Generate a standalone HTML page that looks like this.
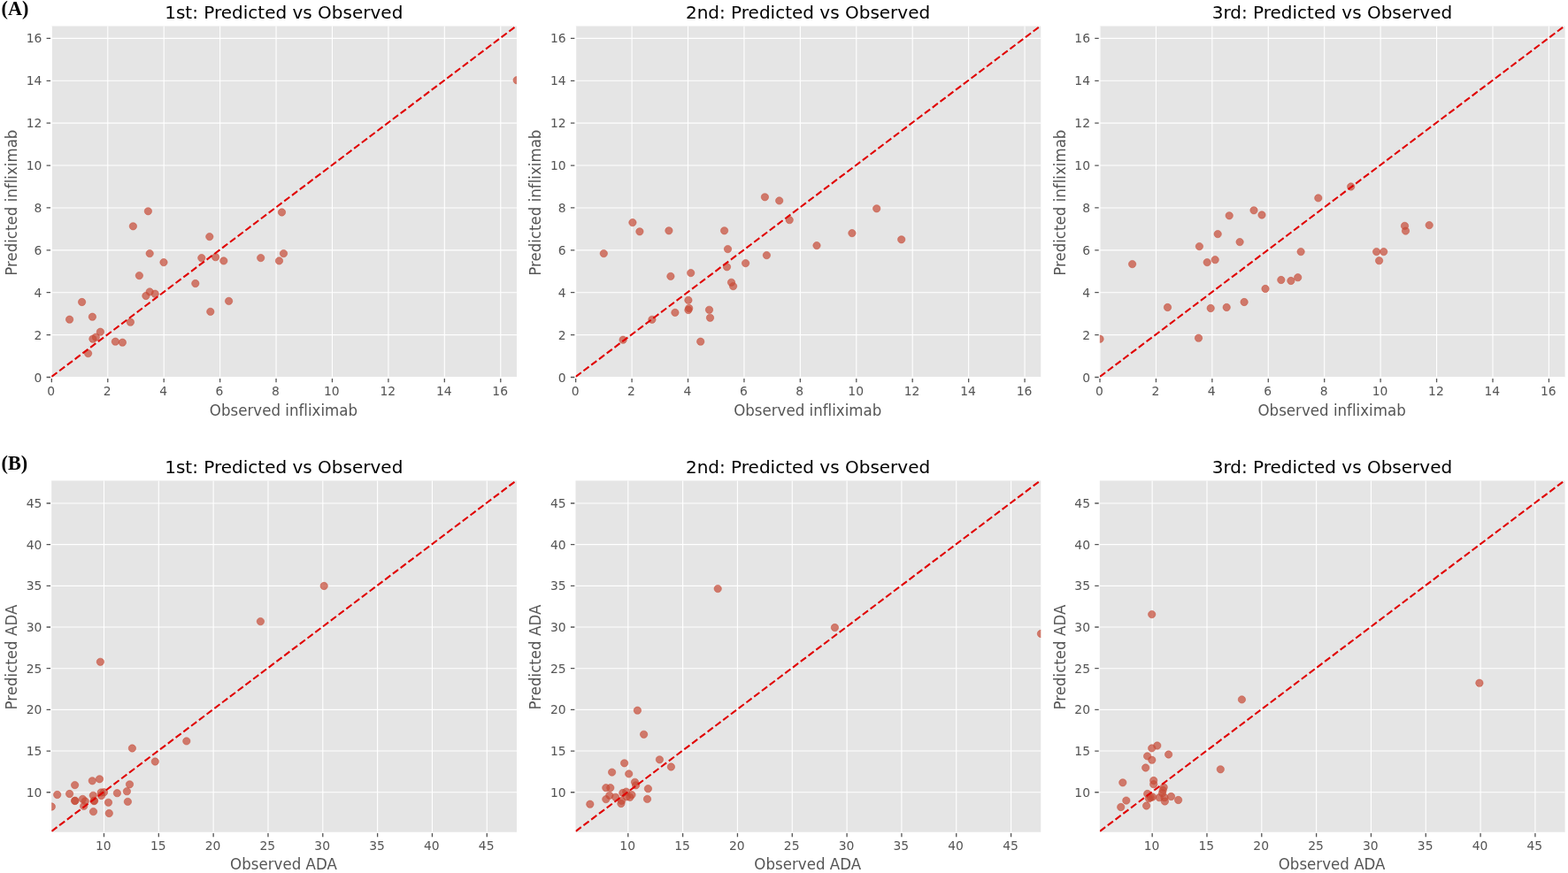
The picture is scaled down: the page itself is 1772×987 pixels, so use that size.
<!DOCTYPE html>
<html lang="en">
<head>
<meta charset="utf-8">
<title>Predicted vs Observed</title>
<style>
html,body{margin:0;padding:0;background:#ffffff;}
body{width:1772px;height:987px;overflow:hidden;}
svg{display:block;}
text{font-variant-ligatures:none;font-kerning:normal;}

</style>
</head>
<body>
<svg width="1772" height="987" viewBox="0 0 1772 987">
<rect x="0" y="0" width="1772" height="987" fill="#ffffff"/>
<defs><clipPath id="cA0"><rect x="58.2" y="29.5" width="525.75" height="397.24"/></clipPath><clipPath id="cA1"><rect x="650.5" y="29.5" width="525.75" height="397.24"/></clipPath><clipPath id="cA2"><rect x="1242.85" y="29.5" width="525.75" height="397.24"/></clipPath><clipPath id="cB0"><rect x="58.2" y="543.43" width="525.75" height="397.31"/></clipPath><clipPath id="cB1"><rect x="650.5" y="543.43" width="525.75" height="397.31"/></clipPath><clipPath id="cB2"><rect x="1242.85" y="543.43" width="525.75" height="397.31"/></clipPath></defs>
<g font-family="'DejaVu Sans', 'Liberation Sans', sans-serif"><g><rect x="58.2" y="29.5" width="525.75" height="397.24" fill="#E5E5E5"/><line x1="58.35" y1="29.5" x2="58.35" y2="426.74" stroke="#ffffff" stroke-width="1.11"/><line x1="58.2" y1="426.5" x2="583.95" y2="426.5" stroke="#ffffff" stroke-width="1.11"/><line x1="121.78" y1="29.5" x2="121.78" y2="426.74" stroke="#ffffff" stroke-width="1.11"/><line x1="58.2" y1="378.61" x2="583.95" y2="378.61" stroke="#ffffff" stroke-width="1.11"/><line x1="185.2" y1="29.5" x2="185.2" y2="426.74" stroke="#ffffff" stroke-width="1.11"/><line x1="58.2" y1="330.72" x2="583.95" y2="330.72" stroke="#ffffff" stroke-width="1.11"/><line x1="248.63" y1="29.5" x2="248.63" y2="426.74" stroke="#ffffff" stroke-width="1.11"/><line x1="58.2" y1="282.83" x2="583.95" y2="282.83" stroke="#ffffff" stroke-width="1.11"/><line x1="312.05" y1="29.5" x2="312.05" y2="426.74" stroke="#ffffff" stroke-width="1.11"/><line x1="58.2" y1="234.94" x2="583.95" y2="234.94" stroke="#ffffff" stroke-width="1.11"/><line x1="375.48" y1="29.5" x2="375.48" y2="426.74" stroke="#ffffff" stroke-width="1.11"/><line x1="58.2" y1="187.05" x2="583.95" y2="187.05" stroke="#ffffff" stroke-width="1.11"/><line x1="438.9" y1="29.5" x2="438.9" y2="426.74" stroke="#ffffff" stroke-width="1.11"/><line x1="58.2" y1="139.17" x2="583.95" y2="139.17" stroke="#ffffff" stroke-width="1.11"/><line x1="502.33" y1="29.5" x2="502.33" y2="426.74" stroke="#ffffff" stroke-width="1.11"/><line x1="58.2" y1="91.28" x2="583.95" y2="91.28" stroke="#ffffff" stroke-width="1.11"/><line x1="565.76" y1="29.5" x2="565.76" y2="426.74" stroke="#ffffff" stroke-width="1.11"/><line x1="58.2" y1="43.39" x2="583.95" y2="43.39" stroke="#ffffff" stroke-width="1.11"/><path d="M58.35 427.89v4.45M57.05 426.5h-4.45M121.78 427.89v4.45M57.05 378.61h-4.45M185.2 427.89v4.45M57.05 330.72h-4.45M248.63 427.89v4.45M57.05 282.83h-4.45M312.05 427.89v4.45M57.05 234.94h-4.45M375.48 427.89v4.45M57.05 187.05h-4.45M438.9 427.89v4.45M57.05 139.17h-4.45M502.33 427.89v4.45M57.05 91.28h-4.45M565.76 427.89v4.45M57.05 43.39h-4.45" stroke="#555555" stroke-width="1.3" fill="none"/><g clip-path="url(#cA0)" fill="#C64A36" fill-opacity="0.7" stroke="#C64A36" stroke-opacity="0.7" stroke-width="0.69"><circle cx="167.4" cy="238.8" r="4.17"/><circle cx="150.4" cy="255.8" r="4.17"/><circle cx="236.8" cy="267.6" r="4.17"/><circle cx="318.5" cy="240" r="4.17"/><circle cx="169.2" cy="286.6" r="4.17"/><circle cx="185" cy="296.6" r="4.17"/><circle cx="227.8" cy="291.6" r="4.17"/><circle cx="243.6" cy="290.7" r="4.17"/><circle cx="252.8" cy="294.9" r="4.17"/><circle cx="294.7" cy="291.6" r="4.17"/><circle cx="320.5" cy="286.6" r="4.17"/><circle cx="315.5" cy="294.9" r="4.17"/><circle cx="157.4" cy="311.6" r="4.17"/><circle cx="220.8" cy="320.5" r="4.17"/><circle cx="169.2" cy="329.9" r="4.17"/><circle cx="164.9" cy="334.5" r="4.17"/><circle cx="175.2" cy="332.2" r="4.17"/><circle cx="92.6" cy="341.5" r="4.17"/><circle cx="258.6" cy="340.4" r="4.17"/><circle cx="237.8" cy="352.4" r="4.17"/><circle cx="104.4" cy="358.2" r="4.17"/><circle cx="78.6" cy="361.2" r="4.17"/><circle cx="147.4" cy="364.2" r="4.17"/><circle cx="113.4" cy="375.2" r="4.17"/><circle cx="108.3" cy="381.2" r="4.17"/><circle cx="104.9" cy="383.2" r="4.17"/><circle cx="130.4" cy="386.2" r="4.17"/><circle cx="138.4" cy="387.2" r="4.17"/><circle cx="99.6" cy="399.6" r="4.17"/><circle cx="584.15" cy="90.7" r="4.17"/></g><line clip-path="url(#cA0)" x1="58.35" y1="425.9" x2="584.15" y2="28.9" stroke="#e00000" stroke-width="2.08" stroke-dasharray="7.67 3.31"/><g fill="#555555" font-size="13.89"><text x="57.75" y="446.7" text-anchor="middle">0</text><text x="47.35" y="431.5" text-anchor="end">0</text><text x="121.18" y="446.7" text-anchor="middle">2</text><text x="47.35" y="383.61" text-anchor="end">2</text><text x="184.6" y="446.7" text-anchor="middle">4</text><text x="47.35" y="335.72" text-anchor="end">4</text><text x="248.03" y="446.7" text-anchor="middle">6</text><text x="47.35" y="287.83" text-anchor="end">6</text><text x="311.45" y="446.7" text-anchor="middle">8</text><text x="47.35" y="239.94" text-anchor="end">8</text><text x="374.88" y="446.7" text-anchor="middle">10</text><text x="47.35" y="192.05" text-anchor="end">10</text><text x="438.3" y="446.7" text-anchor="middle">12</text><text x="47.35" y="144.17" text-anchor="end">12</text><text x="501.73" y="446.7" text-anchor="middle">14</text><text x="47.35" y="96.28" text-anchor="end">14</text><text x="565.16" y="446.7" text-anchor="middle">16</text><text x="47.35" y="48.39" text-anchor="end">16</text></g><text transform="translate(320.45 469.5) scale(0.9524 1)" text-anchor="middle" fill="#555555" font-size="17.5">Observed infliximab</text><text transform="translate(19 229.2) rotate(-90) scale(0.9524 1)" text-anchor="middle" fill="#555555" font-size="17.5">Predicted infliximab</text><text transform="translate(320.75 21) scale(1.0000 1)" text-anchor="middle" fill="#000000" font-size="20">1st: Predicted vs Observed</text></g><g><rect x="650.5" y="29.5" width="525.75" height="397.24" fill="#E5E5E5"/><line x1="650.65" y1="29.5" x2="650.65" y2="426.74" stroke="#ffffff" stroke-width="1.11"/><line x1="650.5" y1="426.5" x2="1176.25" y2="426.5" stroke="#ffffff" stroke-width="1.11"/><line x1="714.08" y1="29.5" x2="714.08" y2="426.74" stroke="#ffffff" stroke-width="1.11"/><line x1="650.5" y1="378.61" x2="1176.25" y2="378.61" stroke="#ffffff" stroke-width="1.11"/><line x1="777.5" y1="29.5" x2="777.5" y2="426.74" stroke="#ffffff" stroke-width="1.11"/><line x1="650.5" y1="330.72" x2="1176.25" y2="330.72" stroke="#ffffff" stroke-width="1.11"/><line x1="840.93" y1="29.5" x2="840.93" y2="426.74" stroke="#ffffff" stroke-width="1.11"/><line x1="650.5" y1="282.83" x2="1176.25" y2="282.83" stroke="#ffffff" stroke-width="1.11"/><line x1="904.35" y1="29.5" x2="904.35" y2="426.74" stroke="#ffffff" stroke-width="1.11"/><line x1="650.5" y1="234.94" x2="1176.25" y2="234.94" stroke="#ffffff" stroke-width="1.11"/><line x1="967.78" y1="29.5" x2="967.78" y2="426.74" stroke="#ffffff" stroke-width="1.11"/><line x1="650.5" y1="187.05" x2="1176.25" y2="187.05" stroke="#ffffff" stroke-width="1.11"/><line x1="1031.2" y1="29.5" x2="1031.2" y2="426.74" stroke="#ffffff" stroke-width="1.11"/><line x1="650.5" y1="139.17" x2="1176.25" y2="139.17" stroke="#ffffff" stroke-width="1.11"/><line x1="1094.63" y1="29.5" x2="1094.63" y2="426.74" stroke="#ffffff" stroke-width="1.11"/><line x1="650.5" y1="91.28" x2="1176.25" y2="91.28" stroke="#ffffff" stroke-width="1.11"/><line x1="1158.06" y1="29.5" x2="1158.06" y2="426.74" stroke="#ffffff" stroke-width="1.11"/><line x1="650.5" y1="43.39" x2="1176.25" y2="43.39" stroke="#ffffff" stroke-width="1.11"/><path d="M650.65 427.89v4.45M649.35 426.5h-4.45M714.08 427.89v4.45M649.35 378.61h-4.45M777.5 427.89v4.45M649.35 330.72h-4.45M840.93 427.89v4.45M649.35 282.83h-4.45M904.35 427.89v4.45M649.35 234.94h-4.45M967.78 427.89v4.45M649.35 187.05h-4.45M1031.2 427.89v4.45M649.35 139.17h-4.45M1094.63 427.89v4.45M649.35 91.28h-4.45M1158.06 427.89v4.45M649.35 43.39h-4.45" stroke="#555555" stroke-width="1.3" fill="none"/><g clip-path="url(#cA1)" fill="#C64A36" fill-opacity="0.7" stroke="#C64A36" stroke-opacity="0.7" stroke-width="0.69"><circle cx="864.4" cy="222.8" r="4.17"/><circle cx="880.7" cy="226.9" r="4.17"/><circle cx="714.9" cy="251.6" r="4.17"/><circle cx="722.9" cy="261.8" r="4.17"/><circle cx="755.9" cy="260.8" r="4.17"/><circle cx="818.6" cy="260.8" r="4.17"/><circle cx="892.2" cy="248.7" r="4.17"/><circle cx="923" cy="277.6" r="4.17"/><circle cx="682.3" cy="286.6" r="4.17"/><circle cx="822.5" cy="281.6" r="4.17"/><circle cx="866.4" cy="288.6" r="4.17"/><circle cx="842.6" cy="297.6" r="4.17"/><circle cx="821.5" cy="301.8" r="4.17"/><circle cx="780.7" cy="308.6" r="4.17"/><circle cx="757.9" cy="312.4" r="4.17"/><circle cx="826.5" cy="319.3" r="4.17"/><circle cx="828.6" cy="323.6" r="4.17"/><circle cx="777.9" cy="339.4" r="4.17"/><circle cx="778.7" cy="348.5" r="4.17"/><circle cx="777.9" cy="350.5" r="4.17"/><circle cx="762.9" cy="353.4" r="4.17"/><circle cx="801.5" cy="350.3" r="4.17"/><circle cx="802.5" cy="359.3" r="4.17"/><circle cx="736.9" cy="361.3" r="4.17"/><circle cx="704.1" cy="384.2" r="4.17"/><circle cx="791.7" cy="386.2" r="4.17"/><circle cx="990.7" cy="235.8" r="4.17"/><circle cx="962.9" cy="263.6" r="4.17"/><circle cx="1018.7" cy="270.8" r="4.17"/></g><line clip-path="url(#cA1)" x1="650.65" y1="425.9" x2="1176.45" y2="28.9" stroke="#e00000" stroke-width="2.08" stroke-dasharray="7.67 3.31"/><g fill="#555555" font-size="13.89"><text x="650.05" y="446.7" text-anchor="middle">0</text><text x="639.65" y="431.5" text-anchor="end">0</text><text x="713.48" y="446.7" text-anchor="middle">2</text><text x="639.65" y="383.61" text-anchor="end">2</text><text x="776.9" y="446.7" text-anchor="middle">4</text><text x="639.65" y="335.72" text-anchor="end">4</text><text x="840.33" y="446.7" text-anchor="middle">6</text><text x="639.65" y="287.83" text-anchor="end">6</text><text x="903.75" y="446.7" text-anchor="middle">8</text><text x="639.65" y="239.94" text-anchor="end">8</text><text x="967.18" y="446.7" text-anchor="middle">10</text><text x="639.65" y="192.05" text-anchor="end">10</text><text x="1030.6" y="446.7" text-anchor="middle">12</text><text x="639.65" y="144.17" text-anchor="end">12</text><text x="1094.03" y="446.7" text-anchor="middle">14</text><text x="639.65" y="96.28" text-anchor="end">14</text><text x="1157.46" y="446.7" text-anchor="middle">16</text><text x="639.65" y="48.39" text-anchor="end">16</text></g><text transform="translate(912.75 469.5) scale(0.9524 1)" text-anchor="middle" fill="#555555" font-size="17.5">Observed infliximab</text><text transform="translate(611.3 229.2) rotate(-90) scale(0.9524 1)" text-anchor="middle" fill="#555555" font-size="17.5">Predicted infliximab</text><text transform="translate(913.05 21) scale(1.0000 1)" text-anchor="middle" fill="#000000" font-size="20">2nd: Predicted vs Observed</text></g><g><rect x="1242.85" y="29.5" width="525.75" height="397.24" fill="#E5E5E5"/><line x1="1243" y1="29.5" x2="1243" y2="426.74" stroke="#ffffff" stroke-width="1.11"/><line x1="1242.85" y1="426.5" x2="1768.6" y2="426.5" stroke="#ffffff" stroke-width="1.11"/><line x1="1306.43" y1="29.5" x2="1306.43" y2="426.74" stroke="#ffffff" stroke-width="1.11"/><line x1="1242.85" y1="378.61" x2="1768.6" y2="378.61" stroke="#ffffff" stroke-width="1.11"/><line x1="1369.85" y1="29.5" x2="1369.85" y2="426.74" stroke="#ffffff" stroke-width="1.11"/><line x1="1242.85" y1="330.72" x2="1768.6" y2="330.72" stroke="#ffffff" stroke-width="1.11"/><line x1="1433.28" y1="29.5" x2="1433.28" y2="426.74" stroke="#ffffff" stroke-width="1.11"/><line x1="1242.85" y1="282.83" x2="1768.6" y2="282.83" stroke="#ffffff" stroke-width="1.11"/><line x1="1496.7" y1="29.5" x2="1496.7" y2="426.74" stroke="#ffffff" stroke-width="1.11"/><line x1="1242.85" y1="234.94" x2="1768.6" y2="234.94" stroke="#ffffff" stroke-width="1.11"/><line x1="1560.13" y1="29.5" x2="1560.13" y2="426.74" stroke="#ffffff" stroke-width="1.11"/><line x1="1242.85" y1="187.05" x2="1768.6" y2="187.05" stroke="#ffffff" stroke-width="1.11"/><line x1="1623.55" y1="29.5" x2="1623.55" y2="426.74" stroke="#ffffff" stroke-width="1.11"/><line x1="1242.85" y1="139.17" x2="1768.6" y2="139.17" stroke="#ffffff" stroke-width="1.11"/><line x1="1686.98" y1="29.5" x2="1686.98" y2="426.74" stroke="#ffffff" stroke-width="1.11"/><line x1="1242.85" y1="91.28" x2="1768.6" y2="91.28" stroke="#ffffff" stroke-width="1.11"/><line x1="1750.41" y1="29.5" x2="1750.41" y2="426.74" stroke="#ffffff" stroke-width="1.11"/><line x1="1242.85" y1="43.39" x2="1768.6" y2="43.39" stroke="#ffffff" stroke-width="1.11"/><path d="M1243 427.89v4.45M1241.7 426.5h-4.45M1306.43 427.89v4.45M1241.7 378.61h-4.45M1369.85 427.89v4.45M1241.7 330.72h-4.45M1433.28 427.89v4.45M1241.7 282.83h-4.45M1496.7 427.89v4.45M1241.7 234.94h-4.45M1560.13 427.89v4.45M1241.7 187.05h-4.45M1623.55 427.89v4.45M1241.7 139.17h-4.45M1686.98 427.89v4.45M1241.7 91.28h-4.45M1750.41 427.89v4.45M1241.7 43.39h-4.45" stroke="#555555" stroke-width="1.3" fill="none"/><g clip-path="url(#cA2)" fill="#C64A36" fill-opacity="0.7" stroke="#C64A36" stroke-opacity="0.7" stroke-width="0.69"><circle cx="1526.7" cy="211" r="4.17"/><circle cx="1489.8" cy="223.9" r="4.17"/><circle cx="1417" cy="237.8" r="4.17"/><circle cx="1426" cy="243" r="4.17"/><circle cx="1389.2" cy="243.8" r="4.17"/><circle cx="1376.2" cy="264.6" r="4.17"/><circle cx="1401.1" cy="273.6" r="4.17"/><circle cx="1355.4" cy="278.6" r="4.17"/><circle cx="1470.1" cy="284.6" r="4.17"/><circle cx="1279.6" cy="298.6" r="4.17"/><circle cx="1373.2" cy="293.7" r="4.17"/><circle cx="1364.2" cy="296.6" r="4.17"/><circle cx="1447.8" cy="316.5" r="4.17"/><circle cx="1458.9" cy="317.5" r="4.17"/><circle cx="1466.7" cy="313.7" r="4.17"/><circle cx="1430" cy="326.5" r="4.17"/><circle cx="1406.1" cy="341.5" r="4.17"/><circle cx="1319.5" cy="347.5" r="4.17"/><circle cx="1368.2" cy="348.5" r="4.17"/><circle cx="1386.2" cy="347.5" r="4.17"/><circle cx="1354.5" cy="382.2" r="4.17"/><circle cx="1243" cy="383.2" r="4.17"/><circle cx="1587.5" cy="255.4" r="4.17"/><circle cx="1588.5" cy="261.1" r="4.17"/><circle cx="1615.2" cy="254.6" r="4.17"/><circle cx="1555.6" cy="284.6" r="4.17"/><circle cx="1563.7" cy="284.6" r="4.17"/><circle cx="1558.6" cy="294.7" r="4.17"/></g><line clip-path="url(#cA2)" x1="1243" y1="425.9" x2="1768.8" y2="28.9" stroke="#e00000" stroke-width="2.08" stroke-dasharray="7.67 3.31"/><g fill="#555555" font-size="13.89"><text x="1242.4" y="446.7" text-anchor="middle">0</text><text x="1232" y="431.5" text-anchor="end">0</text><text x="1305.83" y="446.7" text-anchor="middle">2</text><text x="1232" y="383.61" text-anchor="end">2</text><text x="1369.25" y="446.7" text-anchor="middle">4</text><text x="1232" y="335.72" text-anchor="end">4</text><text x="1432.68" y="446.7" text-anchor="middle">6</text><text x="1232" y="287.83" text-anchor="end">6</text><text x="1496.1" y="446.7" text-anchor="middle">8</text><text x="1232" y="239.94" text-anchor="end">8</text><text x="1559.53" y="446.7" text-anchor="middle">10</text><text x="1232" y="192.05" text-anchor="end">10</text><text x="1622.95" y="446.7" text-anchor="middle">12</text><text x="1232" y="144.17" text-anchor="end">12</text><text x="1686.38" y="446.7" text-anchor="middle">14</text><text x="1232" y="96.28" text-anchor="end">14</text><text x="1749.81" y="446.7" text-anchor="middle">16</text><text x="1232" y="48.39" text-anchor="end">16</text></g><text transform="translate(1505.1 469.5) scale(0.9524 1)" text-anchor="middle" fill="#555555" font-size="17.5">Observed infliximab</text><text transform="translate(1203.65 229.2) rotate(-90) scale(0.9524 1)" text-anchor="middle" fill="#555555" font-size="17.5">Predicted infliximab</text><text transform="translate(1505.4 21) scale(1.0000 1)" text-anchor="middle" fill="#000000" font-size="20">3rd: Predicted vs Observed</text></g><text x="1.5" y="17.3" font-family="'Liberation Serif', 'Times New Roman', serif" font-weight="bold" font-size="22.22" fill="#000000">(A)</text><g><rect x="58.2" y="543.43" width="525.75" height="397.31" fill="#E5E5E5"/><line x1="117.49" y1="543.43" x2="117.49" y2="940.74" stroke="#ffffff" stroke-width="1.11"/><line x1="58.2" y1="895.75" x2="583.95" y2="895.75" stroke="#ffffff" stroke-width="1.11"/><line x1="179.32" y1="543.43" x2="179.32" y2="940.74" stroke="#ffffff" stroke-width="1.11"/><line x1="58.2" y1="849.06" x2="583.95" y2="849.06" stroke="#ffffff" stroke-width="1.11"/><line x1="241.14" y1="543.43" x2="241.14" y2="940.74" stroke="#ffffff" stroke-width="1.11"/><line x1="58.2" y1="802.38" x2="583.95" y2="802.38" stroke="#ffffff" stroke-width="1.11"/><line x1="302.97" y1="543.43" x2="302.97" y2="940.74" stroke="#ffffff" stroke-width="1.11"/><line x1="58.2" y1="755.7" x2="583.95" y2="755.7" stroke="#ffffff" stroke-width="1.11"/><line x1="364.79" y1="543.43" x2="364.79" y2="940.74" stroke="#ffffff" stroke-width="1.11"/><line x1="58.2" y1="709.02" x2="583.95" y2="709.02" stroke="#ffffff" stroke-width="1.11"/><line x1="426.62" y1="543.43" x2="426.62" y2="940.74" stroke="#ffffff" stroke-width="1.11"/><line x1="58.2" y1="662.34" x2="583.95" y2="662.34" stroke="#ffffff" stroke-width="1.11"/><line x1="488.44" y1="543.43" x2="488.44" y2="940.74" stroke="#ffffff" stroke-width="1.11"/><line x1="58.2" y1="615.66" x2="583.95" y2="615.66" stroke="#ffffff" stroke-width="1.11"/><line x1="550.27" y1="543.43" x2="550.27" y2="940.74" stroke="#ffffff" stroke-width="1.11"/><line x1="58.2" y1="568.98" x2="583.95" y2="568.98" stroke="#ffffff" stroke-width="1.11"/><path d="M117.49 941.89v4.45M57.05 895.75h-4.45M179.32 941.89v4.45M57.05 849.06h-4.45M241.14 941.89v4.45M57.05 802.38h-4.45M302.97 941.89v4.45M57.05 755.7h-4.45M364.79 941.89v4.45M57.05 709.02h-4.45M426.62 941.89v4.45M57.05 662.34h-4.45M488.44 941.89v4.45M57.05 615.66h-4.45M550.27 941.89v4.45M57.05 568.98h-4.45" stroke="#555555" stroke-width="1.3" fill="none"/><g clip-path="url(#cB0)" fill="#C64A36" fill-opacity="0.7" stroke="#C64A36" stroke-opacity="0.7" stroke-width="0.69"><circle cx="366.2" cy="662.5" r="4.17"/><circle cx="294.4" cy="702.6" r="4.17"/><circle cx="113.4" cy="748.3" r="4.17"/><circle cx="210.8" cy="837.9" r="4.17"/><circle cx="149.4" cy="846" r="4.17"/><circle cx="175.3" cy="861" r="4.17"/><circle cx="104.3" cy="882.8" r="4.17"/><circle cx="112.5" cy="880.8" r="4.17"/><circle cx="84.6" cy="887.6" r="4.17"/><circle cx="146.5" cy="886.8" r="4.17"/><circle cx="64.7" cy="898.5" r="4.17"/><circle cx="78.6" cy="897.5" r="4.17"/><circle cx="132.4" cy="896.7" r="4.17"/><circle cx="143.4" cy="894.7" r="4.17"/><circle cx="105.3" cy="899.3" r="4.17"/><circle cx="114.2" cy="896" r="4.17"/><circle cx="117.5" cy="895.7" r="4.17"/><circle cx="114.5" cy="899.5" r="4.17"/><circle cx="84.6" cy="905.5" r="4.17"/><circle cx="84.9" cy="905.2" r="4.17"/><circle cx="93.4" cy="903.4" r="4.17"/><circle cx="96.2" cy="905.9" r="4.17"/><circle cx="106.6" cy="905.3" r="4.17"/><circle cx="106.2" cy="905.6" r="4.17"/><circle cx="122.5" cy="907.3" r="4.17"/><circle cx="144.4" cy="906.4" r="4.17"/><circle cx="58.35" cy="912" r="4.17"/><circle cx="94.7" cy="911.4" r="4.17"/><circle cx="105.5" cy="917.6" r="4.17"/><circle cx="123.3" cy="919.5" r="4.17"/></g><line clip-path="url(#cB0)" x1="58.35" y1="939.8" x2="584.15" y2="542.8" stroke="#e00000" stroke-width="2.08" stroke-dasharray="7.67 3.31"/><g fill="#555555" font-size="13.89"><text x="116.89" y="960.6" text-anchor="middle">10</text><text x="47.35" y="900.75" text-anchor="end">10</text><text x="178.72" y="960.6" text-anchor="middle">15</text><text x="47.35" y="854.06" text-anchor="end">15</text><text x="240.54" y="960.6" text-anchor="middle">20</text><text x="47.35" y="807.38" text-anchor="end">20</text><text x="302.37" y="960.6" text-anchor="middle">25</text><text x="47.35" y="760.7" text-anchor="end">25</text><text x="364.19" y="960.6" text-anchor="middle">30</text><text x="47.35" y="714.02" text-anchor="end">30</text><text x="426.02" y="960.6" text-anchor="middle">35</text><text x="47.35" y="667.34" text-anchor="end">35</text><text x="487.84" y="960.6" text-anchor="middle">40</text><text x="47.35" y="620.66" text-anchor="end">40</text><text x="549.67" y="960.6" text-anchor="middle">45</text><text x="47.35" y="573.98" text-anchor="end">45</text></g><text transform="translate(320.45 983.4) scale(0.9524 1)" text-anchor="middle" fill="#555555" font-size="17.5">Observed ADA</text><text transform="translate(19 743.1) rotate(-90) scale(0.9524 1)" text-anchor="middle" fill="#555555" font-size="17.5">Predicted ADA</text><text transform="translate(320.75 534.9) scale(1.0000 1)" text-anchor="middle" fill="#000000" font-size="20">1st: Predicted vs Observed</text></g><g><rect x="650.5" y="543.43" width="525.75" height="397.31" fill="#E5E5E5"/><line x1="709.79" y1="543.43" x2="709.79" y2="940.74" stroke="#ffffff" stroke-width="1.11"/><line x1="650.5" y1="895.75" x2="1176.25" y2="895.75" stroke="#ffffff" stroke-width="1.11"/><line x1="771.62" y1="543.43" x2="771.62" y2="940.74" stroke="#ffffff" stroke-width="1.11"/><line x1="650.5" y1="849.06" x2="1176.25" y2="849.06" stroke="#ffffff" stroke-width="1.11"/><line x1="833.44" y1="543.43" x2="833.44" y2="940.74" stroke="#ffffff" stroke-width="1.11"/><line x1="650.5" y1="802.38" x2="1176.25" y2="802.38" stroke="#ffffff" stroke-width="1.11"/><line x1="895.27" y1="543.43" x2="895.27" y2="940.74" stroke="#ffffff" stroke-width="1.11"/><line x1="650.5" y1="755.7" x2="1176.25" y2="755.7" stroke="#ffffff" stroke-width="1.11"/><line x1="957.09" y1="543.43" x2="957.09" y2="940.74" stroke="#ffffff" stroke-width="1.11"/><line x1="650.5" y1="709.02" x2="1176.25" y2="709.02" stroke="#ffffff" stroke-width="1.11"/><line x1="1018.92" y1="543.43" x2="1018.92" y2="940.74" stroke="#ffffff" stroke-width="1.11"/><line x1="650.5" y1="662.34" x2="1176.25" y2="662.34" stroke="#ffffff" stroke-width="1.11"/><line x1="1080.74" y1="543.43" x2="1080.74" y2="940.74" stroke="#ffffff" stroke-width="1.11"/><line x1="650.5" y1="615.66" x2="1176.25" y2="615.66" stroke="#ffffff" stroke-width="1.11"/><line x1="1142.57" y1="543.43" x2="1142.57" y2="940.74" stroke="#ffffff" stroke-width="1.11"/><line x1="650.5" y1="568.98" x2="1176.25" y2="568.98" stroke="#ffffff" stroke-width="1.11"/><path d="M709.79 941.89v4.45M649.35 895.75h-4.45M771.62 941.89v4.45M649.35 849.06h-4.45M833.44 941.89v4.45M649.35 802.38h-4.45M895.27 941.89v4.45M649.35 755.7h-4.45M957.09 941.89v4.45M649.35 709.02h-4.45M1018.92 941.89v4.45M649.35 662.34h-4.45M1080.74 941.89v4.45M649.35 615.66h-4.45M1142.57 941.89v4.45M649.35 568.98h-4.45" stroke="#555555" stroke-width="1.3" fill="none"/><g clip-path="url(#cB1)" fill="#C64A36" fill-opacity="0.7" stroke="#C64A36" stroke-opacity="0.7" stroke-width="0.69"><circle cx="811.2" cy="665.6" r="4.17"/><circle cx="943.4" cy="709.5" r="4.17"/><circle cx="1176.45" cy="716.5" r="4.17"/><circle cx="720.4" cy="803.2" r="4.17"/><circle cx="727.6" cy="830.3" r="4.17"/><circle cx="745.4" cy="858.8" r="4.17"/><circle cx="758.4" cy="867" r="4.17"/><circle cx="705.6" cy="862.8" r="4.17"/><circle cx="691.6" cy="873.1" r="4.17"/><circle cx="710.7" cy="874.9" r="4.17"/><circle cx="717.5" cy="884.3" r="4.17"/><circle cx="718.6" cy="887.8" r="4.17"/><circle cx="732.4" cy="891.7" r="4.17"/><circle cx="684.8" cy="890.7" r="4.17"/><circle cx="689.8" cy="890.7" r="4.17"/><circle cx="688.8" cy="899.3" r="4.17"/><circle cx="684.8" cy="903.6" r="4.17"/><circle cx="695.6" cy="901.3" r="4.17"/><circle cx="703.8" cy="896.5" r="4.17"/><circle cx="707.7" cy="895.1" r="4.17"/><circle cx="714" cy="898.6" r="4.17"/><circle cx="711.9" cy="901.3" r="4.17"/><circle cx="708.2" cy="900.8" r="4.17"/><circle cx="702.5" cy="905.4" r="4.17"/><circle cx="701.9" cy="908.5" r="4.17"/><circle cx="731.5" cy="903.4" r="4.17"/><circle cx="666.8" cy="909.2" r="4.17"/></g><line clip-path="url(#cB1)" x1="650.65" y1="939.8" x2="1176.45" y2="542.8" stroke="#e00000" stroke-width="2.08" stroke-dasharray="7.67 3.31"/><g fill="#555555" font-size="13.89"><text x="709.19" y="960.6" text-anchor="middle">10</text><text x="639.65" y="900.75" text-anchor="end">10</text><text x="771.02" y="960.6" text-anchor="middle">15</text><text x="639.65" y="854.06" text-anchor="end">15</text><text x="832.84" y="960.6" text-anchor="middle">20</text><text x="639.65" y="807.38" text-anchor="end">20</text><text x="894.67" y="960.6" text-anchor="middle">25</text><text x="639.65" y="760.7" text-anchor="end">25</text><text x="956.49" y="960.6" text-anchor="middle">30</text><text x="639.65" y="714.02" text-anchor="end">30</text><text x="1018.32" y="960.6" text-anchor="middle">35</text><text x="639.65" y="667.34" text-anchor="end">35</text><text x="1080.14" y="960.6" text-anchor="middle">40</text><text x="639.65" y="620.66" text-anchor="end">40</text><text x="1141.97" y="960.6" text-anchor="middle">45</text><text x="639.65" y="573.98" text-anchor="end">45</text></g><text transform="translate(912.75 983.4) scale(0.9524 1)" text-anchor="middle" fill="#555555" font-size="17.5">Observed ADA</text><text transform="translate(611.3 743.1) rotate(-90) scale(0.9524 1)" text-anchor="middle" fill="#555555" font-size="17.5">Predicted ADA</text><text transform="translate(913.05 534.9) scale(1.0000 1)" text-anchor="middle" fill="#000000" font-size="20">2nd: Predicted vs Observed</text></g><g><rect x="1242.85" y="543.43" width="525.75" height="397.31" fill="#E5E5E5"/><line x1="1302.14" y1="543.43" x2="1302.14" y2="940.74" stroke="#ffffff" stroke-width="1.11"/><line x1="1242.85" y1="895.75" x2="1768.6" y2="895.75" stroke="#ffffff" stroke-width="1.11"/><line x1="1363.97" y1="543.43" x2="1363.97" y2="940.74" stroke="#ffffff" stroke-width="1.11"/><line x1="1242.85" y1="849.06" x2="1768.6" y2="849.06" stroke="#ffffff" stroke-width="1.11"/><line x1="1425.79" y1="543.43" x2="1425.79" y2="940.74" stroke="#ffffff" stroke-width="1.11"/><line x1="1242.85" y1="802.38" x2="1768.6" y2="802.38" stroke="#ffffff" stroke-width="1.11"/><line x1="1487.62" y1="543.43" x2="1487.62" y2="940.74" stroke="#ffffff" stroke-width="1.11"/><line x1="1242.85" y1="755.7" x2="1768.6" y2="755.7" stroke="#ffffff" stroke-width="1.11"/><line x1="1549.44" y1="543.43" x2="1549.44" y2="940.74" stroke="#ffffff" stroke-width="1.11"/><line x1="1242.85" y1="709.02" x2="1768.6" y2="709.02" stroke="#ffffff" stroke-width="1.11"/><line x1="1611.27" y1="543.43" x2="1611.27" y2="940.74" stroke="#ffffff" stroke-width="1.11"/><line x1="1242.85" y1="662.34" x2="1768.6" y2="662.34" stroke="#ffffff" stroke-width="1.11"/><line x1="1673.09" y1="543.43" x2="1673.09" y2="940.74" stroke="#ffffff" stroke-width="1.11"/><line x1="1242.85" y1="615.66" x2="1768.6" y2="615.66" stroke="#ffffff" stroke-width="1.11"/><line x1="1734.92" y1="543.43" x2="1734.92" y2="940.74" stroke="#ffffff" stroke-width="1.11"/><line x1="1242.85" y1="568.98" x2="1768.6" y2="568.98" stroke="#ffffff" stroke-width="1.11"/><path d="M1302.14 941.89v4.45M1241.7 895.75h-4.45M1363.97 941.89v4.45M1241.7 849.06h-4.45M1425.79 941.89v4.45M1241.7 802.38h-4.45M1487.62 941.89v4.45M1241.7 755.7h-4.45M1549.44 941.89v4.45M1241.7 709.02h-4.45M1611.27 941.89v4.45M1241.7 662.34h-4.45M1673.09 941.89v4.45M1241.7 615.66h-4.45M1734.92 941.89v4.45M1241.7 568.98h-4.45" stroke="#555555" stroke-width="1.3" fill="none"/><g clip-path="url(#cB2)" fill="#C64A36" fill-opacity="0.7" stroke="#C64A36" stroke-opacity="0.7" stroke-width="0.69"><circle cx="1301.7" cy="694.6" r="4.17"/><circle cx="1403.4" cy="790.9" r="4.17"/><circle cx="1671.9" cy="772.2" r="4.17"/><circle cx="1307.8" cy="843" r="4.17"/><circle cx="1301.7" cy="845.9" r="4.17"/><circle cx="1296.6" cy="854.9" r="4.17"/><circle cx="1301.8" cy="859.2" r="4.17"/><circle cx="1320.6" cy="853" r="4.17"/><circle cx="1294.7" cy="868" r="4.17"/><circle cx="1379.3" cy="869.8" r="4.17"/><circle cx="1268.8" cy="884.8" r="4.17"/><circle cx="1303.7" cy="882.5" r="4.17"/><circle cx="1303.7" cy="886.7" r="4.17"/><circle cx="1315.2" cy="890.1" r="4.17"/><circle cx="1314.2" cy="893.4" r="4.17"/><circle cx="1313.5" cy="896.7" r="4.17"/><circle cx="1296.7" cy="897.5" r="4.17"/><circle cx="1302.5" cy="901" r="4.17"/><circle cx="1300.4" cy="901.6" r="4.17"/><circle cx="1298.5" cy="902.9" r="4.17"/><circle cx="1310.2" cy="901.7" r="4.17"/><circle cx="1316" cy="901.7" r="4.17"/><circle cx="1323.5" cy="900.5" r="4.17"/><circle cx="1316.4" cy="906" r="4.17"/><circle cx="1331.6" cy="904.5" r="4.17"/><circle cx="1272.8" cy="905.1" r="4.17"/><circle cx="1266.7" cy="912.5" r="4.17"/><circle cx="1295.6" cy="911" r="4.17"/></g><line clip-path="url(#cB2)" x1="1243" y1="939.8" x2="1768.8" y2="542.8" stroke="#e00000" stroke-width="2.08" stroke-dasharray="7.67 3.31"/><g fill="#555555" font-size="13.89"><text x="1301.54" y="960.6" text-anchor="middle">10</text><text x="1232" y="900.75" text-anchor="end">10</text><text x="1363.37" y="960.6" text-anchor="middle">15</text><text x="1232" y="854.06" text-anchor="end">15</text><text x="1425.19" y="960.6" text-anchor="middle">20</text><text x="1232" y="807.38" text-anchor="end">20</text><text x="1487.02" y="960.6" text-anchor="middle">25</text><text x="1232" y="760.7" text-anchor="end">25</text><text x="1548.84" y="960.6" text-anchor="middle">30</text><text x="1232" y="714.02" text-anchor="end">30</text><text x="1610.67" y="960.6" text-anchor="middle">35</text><text x="1232" y="667.34" text-anchor="end">35</text><text x="1672.49" y="960.6" text-anchor="middle">40</text><text x="1232" y="620.66" text-anchor="end">40</text><text x="1734.32" y="960.6" text-anchor="middle">45</text><text x="1232" y="573.98" text-anchor="end">45</text></g><text transform="translate(1505.1 983.4) scale(0.9524 1)" text-anchor="middle" fill="#555555" font-size="17.5">Observed ADA</text><text transform="translate(1203.65 743.1) rotate(-90) scale(0.9524 1)" text-anchor="middle" fill="#555555" font-size="17.5">Predicted ADA</text><text transform="translate(1505.4 534.9) scale(1.0000 1)" text-anchor="middle" fill="#000000" font-size="20">3rd: Predicted vs Observed</text></g><text x="1.5" y="531.3" font-family="'Liberation Serif', 'Times New Roman', serif" font-weight="bold" font-size="22.22" fill="#000000">(B)</text></g>
</svg>
</body>
</html>
